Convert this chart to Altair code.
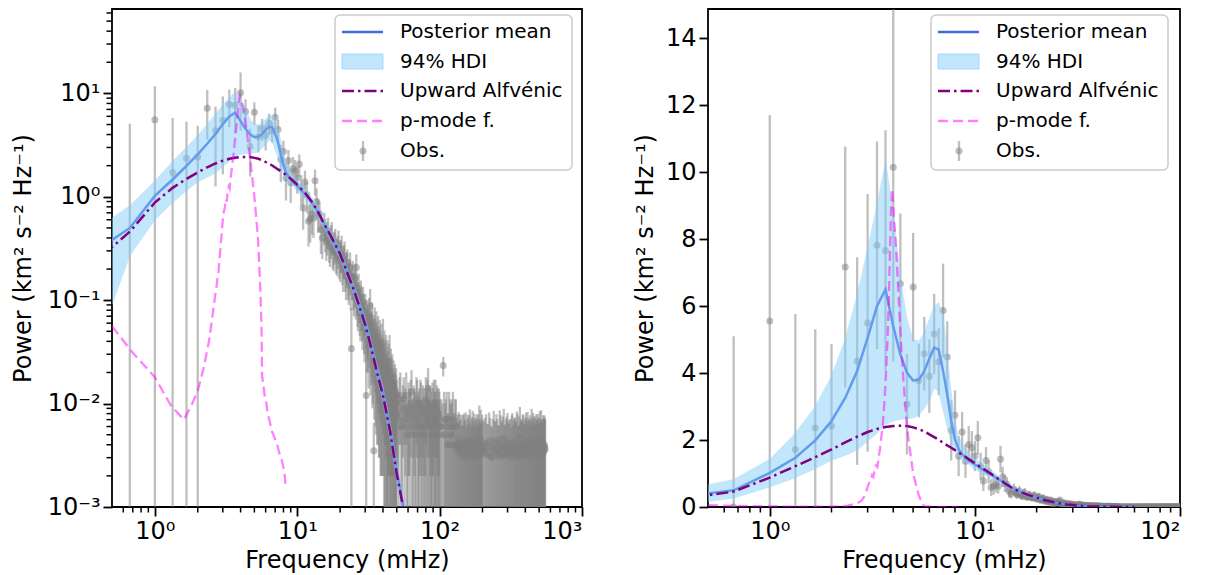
import altair as alt
import pandas as pd

FONT = "DejaVu Sans"
H = 498
W_L, W_R = 470, 472

legend_labels = ["Posterior mean", "94% HDI", "Upward Alfvénic", "p-mode f.", "Obs."]
x_title = "Frequency (mHz)"
y_title = "Power (km² s⁻² Hz⁻¹)"

# ---------------- observations ----------------
obs_f_low = [0.667, 1.0, 1.333, 1.667, 2.0, 2.333, 2.667, 3.0, 3.333, 3.667, 4.0, 4.333, 4.667, 5.0, 5.333,
             5.667, 6.0, 6.333, 6.667, 7.0, 7.333, 7.667, 8.0, 8.333, 8.667, 9.0, 9.333, 9.667, 10.0, 10.333,
             10.667, 11.0, 11.333, 11.667, 12.0, 12.333, 12.667, 13.0, 13.333, 13.667, 14.0, 14.333, 14.667, 15.0]
obs_v_low = [0.0005, 5.56, 1.72, 2.36, 2.42, 7.17, 4.36, 5.50, 7.82, 7.66, 10.15, 6.67, 3.07, 6.57, 3.78,
             4.58, 3.91, 5.17, 4.34, 5.87, 4.48, 2.29, 2.74, 1.52, 2.24, 1.37, 1.87, 1.77, 1.52, 2.07,
             1.22, 0.78, 1.39, 1.05, 0.58, 0.61, 0.68, 0.62, 1.43, 0.90, 0.70, 0.68, 0.48, 0.40]
obs_e_low = [5.1, 6.15, 4.05, 2.95, 2.45, 3.6, 3.1, 3.85, 3.1, 3.6, 5.8, 2.1, 1.5, 1.62, 1.1,
             1.1, 1.1, 1.2, 1.0, 1.4, 1.07, 0.9, 0.75, 0.6, 0.6, 0.5, 0.55, 0.5, 0.45, 0.5,
             0.4, 0.3, 0.4, 0.35, 0.25, 0.25, 0.25, 0.22, 0.4, 0.3, 0.25, 0.22, 0.2, 0.15]

obs_f_mid = [15.5, 16.0, 16.5, 17.0, 17.5, 18.0, 18.5, 19.0, 19.5, 20.0, 20.5, 21.0, 21.5, 22.0, 22.5,
             23.0, 23.5, 24.0, 24.5, 25.0, 25.5, 26.0, 26.5, 27.0, 27.5, 28.0, 28.5, 29.0, 29.5, 30.0,
             30.5, 31.0, 31.5, 32.0, 32.5, 33.0, 33.5, 34.0, 34.5, 35.0, 35.5, 36.0, 36.5, 37.0, 37.5,
             38.0, 38.5, 39.0, 39.5, 40.0, 40.5, 41.0, 41.5, 42.0, 42.5, 43.0, 43.5, 44.0, 44.5, 45.0,
             45.5, 46.0, 46.5, 47.0, 47.5, 48.0, 48.5, 49.0, 49.5]
obs_v_mid = [0.52, 0.38, 0.47, 0.33, 0.42, 0.30, 0.36, 0.27, 0.35, 0.24, 0.31, 0.20, 0.27, 0.17, 0.23,
             0.15, 0.21, 0.034, 0.17, 0.12, 0.166, 0.207, 0.10, 0.13, 0.085, 0.11, 0.075, 0.095, 0.06, 0.08,
             0.012, 0.065, 0.05, 0.07, 0.088, 0.045, 0.06, 0.038, 0.0035, 0.05, 0.032, 0.045, 0.028, 0.04, 0.025,
             0.036, 0.022, 0.033, 0.02, 0.038, 0.018, 0.028, 0.016, 0.025, 0.014, 0.022, 0.013, 0.02, 0.026, 0.012,
             0.018, 0.011, 0.016, 0.01, 0.014, 0.009, 0.013, 0.0085, 0.012]
obs_e_mid = [0.18, 0.14, 0.16, 0.12, 0.15, 0.11, 0.13, 0.10, 0.12, 0.09, 0.11, 0.08, 0.10, 0.07, 0.08,
             0.06, 0.08, 0.05, 0.07, 0.05, 0.06, 0.07, 0.045, 0.05, 0.04, 0.045, 0.035, 0.04, 0.03, 0.035,
             0.03, 0.035, 0.03, 0.035, 0.04, 0.03, 0.035, 0.028, 0.003, 0.035, 0.026, 0.033, 0.024, 0.03, 0.022,
             0.028, 0.02, 0.026, 0.018, 0.028, 0.016, 0.023, 0.015, 0.021, 0.013, 0.019, 0.012, 0.018, 0.02, 0.011,
             0.016, 0.01, 0.014, 0.009, 0.012, 0.008, 0.011, 0.008, 0.01]

obs_f_mid2 = [15.75, 16.25, 16.75, 17.25, 17.75, 18.25, 18.75, 19.25, 19.75, 20.25, 20.75, 21.25, 21.75, 22.25, 22.75,
              23.25, 23.75, 24.25, 24.75, 25.25, 25.75, 26.25, 26.75, 27.25, 27.75, 28.25, 28.75, 29.25, 29.75, 30.25,
              30.75, 31.25, 31.75, 32.25, 32.75, 33.25, 33.75, 34.25, 34.75, 35.25, 35.75, 36.25, 36.75, 37.25, 37.75,
              38.25, 38.75, 39.25, 39.75, 40.25, 40.75, 41.25, 41.75, 42.25, 42.75, 43.25, 43.75, 44.25, 44.75, 45.25,
              45.75, 46.25, 46.75, 47.25, 47.75, 48.25, 48.75, 49.25, 49.75]
obs_v_mid2 = [0.45, 0.42, 0.36, 0.39, 0.31, 0.34, 0.29, 0.31, 0.26, 0.28, 0.22, 0.25, 0.19, 0.21, 0.16,
              0.18, 0.14, 0.16, 0.13, 0.14, 0.11, 0.12, 0.09, 0.105, 0.075, 0.09, 0.065, 0.078, 0.055, 0.068,
              0.05, 0.058, 0.042, 0.052, 0.038, 0.048, 0.034, 0.044, 0.03, 0.04, 0.027, 0.036, 0.024, 0.032, 0.021,
              0.029, 0.019, 0.026, 0.017, 0.024, 0.015, 0.021, 0.014, 0.019, 0.012, 0.017, 0.011, 0.015, 0.01, 0.014,
              0.0095, 0.013, 0.009, 0.012, 0.0085, 0.011, 0.008, 0.01, 0.0075]
obs_e_mid2 = [0.16, 0.15, 0.13, 0.14, 0.11, 0.12, 0.11, 0.11, 0.10, 0.10, 0.08, 0.09, 0.07, 0.08, 0.06,
              0.07, 0.06, 0.06, 0.05, 0.055, 0.045, 0.05, 0.04, 0.045, 0.035, 0.04, 0.032, 0.036, 0.03, 0.034,
              0.03, 0.032, 0.028, 0.03, 0.026, 0.03, 0.025, 0.028, 0.023, 0.027, 0.022, 0.026, 0.02, 0.024, 0.018,
              0.022, 0.017, 0.02, 0.015, 0.019, 0.014, 0.017, 0.013, 0.016, 0.011, 0.015, 0.01, 0.013, 0.01, 0.012,
              0.009, 0.011, 0.008, 0.01, 0.008, 0.009, 0.0075, 0.009, 0.007]

obs_f_hi1 = [50, 51.5, 53, 54.5, 56, 57.5, 59, 60.5, 62, 63.5, 65, 66.5, 68, 69.5, 71, 72.5, 74,
             75.5, 77, 78.5, 80, 81.5, 83, 84.5, 86, 87.5, 89, 90.5, 92, 93.5, 95, 96.5, 98, 99.5]
obs_v_hi1 = [0.010, 0.007, 0.012, 0.006, 0.011, 0.008, 0.005, 0.009, 0.007, 0.013, 0.006, 0.008, 0.005,
             0.010, 0.007, 0.006, 0.009, 0.005, 0.008, 0.006, 0.011, 0.007, 0.014, 0.006, 0.008, 0.005,
             0.009, 0.006, 0.007, 0.010, 0.005, 0.008, 0.006, 0.007]
obs_e_hi1 = [0.007, 0.006, 0.008, 0.005, 0.007, 0.006, 0.005, 0.007, 0.006, 0.008, 0.005, 0.006, 0.005,
             0.007, 0.006, 0.005, 0.007, 0.005, 0.006, 0.005, 0.007, 0.006, 0.008, 0.005, 0.006, 0.005,
             0.007, 0.005, 0.006, 0.007, 0.005, 0.006, 0.005, 0.006]

obs_f_hi1b = [50.75, 52.25, 53.75, 55.25, 56.75, 58.25, 59.75, 61.25, 62.75, 64.25, 65.75, 67.25, 68.75,
              70.25, 71.75, 73.25, 74.75, 76.25, 77.75, 79.25, 80.75, 82.25, 83.75, 85.25, 86.75, 88.25,
              89.75, 91.25, 92.75, 94.25, 95.75, 97.25, 98.75, 100.25]
obs_v_hi1b = [0.008, 0.011, 0.006, 0.009, 0.007, 0.012, 0.006, 0.008, 0.010, 0.005, 0.009, 0.007, 0.011,
              0.006, 0.008, 0.010, 0.006, 0.009, 0.005, 0.008, 0.007, 0.010, 0.006, 0.009, 0.007, 0.005,
              0.008, 0.010, 0.006, 0.007, 0.009, 0.005, 0.008, 0.006]
obs_e_hi1b = [0.006, 0.007, 0.005, 0.006, 0.006, 0.008, 0.005, 0.006, 0.007, 0.005, 0.006, 0.006, 0.007,
              0.005, 0.006, 0.007, 0.005, 0.006, 0.005, 0.006, 0.006, 0.007, 0.005, 0.006, 0.006, 0.005,
              0.006, 0.007, 0.005, 0.006, 0.006, 0.005, 0.006, 0.005]

obs_f_hi2 = [103, 106, 109, 112, 115, 118, 121, 124, 127, 130, 133, 136, 139, 142, 145, 148, 151,
             154, 157, 160, 163, 166, 169, 172, 175, 178, 181, 184, 187, 190, 193, 196, 199]
obs_v_hi2 = [0.006, 0.0233, 0.005, 0.007, 0.004, 0.006, 0.005, 0.007, 0.004, 0.006, 0.004, 0.0045, 0.0035,
             0.004, 0.0032, 0.0042, 0.0036, 0.003, 0.004, 0.0034, 0.0045, 0.0031, 0.0038, 0.0035, 0.0042,
             0.003, 0.0037, 0.0033, 0.004, 0.0048, 0.0032, 0.0036, 0.004]
obs_e_hi2 = [0.005, 0.005, 0.005, 0.006, 0.004, 0.005, 0.005, 0.006, 0.004, 0.005, 0.0038, 0.0038, 0.0033,
             0.0038, 0.003, 0.0038, 0.0034, 0.0028, 0.0038, 0.0032, 0.0043, 0.0029, 0.0036, 0.0033, 0.0038,
             0.0028, 0.0035, 0.0031, 0.0038, 0.0048, 0.003, 0.0034, 0.0038]

obs_f_hi2b = [104.5, 107.5, 110.5, 113.5, 116.5, 119.5, 122.5, 125.5, 128.5, 131.5, 134.5, 137.5, 140.5,
              143.5, 146.5, 149.5, 152.5, 155.5, 158.5, 161.5, 164.5, 167.5, 170.5, 173.5, 176.5, 179.5,
              182.5, 185.5, 188.5, 191.5, 194.5, 197.5, 200.5]
obs_v_hi2b = [0.005, 0.007, 0.006, 0.004, 0.007, 0.005, 0.006, 0.004, 0.006, 0.0038, 0.0034, 0.0041, 0.0037,
              0.0031, 0.004, 0.0035, 0.0043, 0.0032, 0.0037, 0.004, 0.0033, 0.0036, 0.0044, 0.0032, 0.0038,
              0.0035, 0.0041, 0.0031, 0.0037, 0.0034, 0.0045, 0.0033, 0.0036]
obs_e_hi2b = [0.005, 0.006, 0.005, 0.004, 0.006, 0.005, 0.005, 0.004, 0.005, 0.0035, 0.0032, 0.0038, 0.0034,
              0.003, 0.0037, 0.0033, 0.0039, 0.003, 0.0035, 0.0037, 0.0031, 0.0034, 0.0041, 0.003, 0.0035,
              0.0033, 0.0038, 0.003, 0.0034, 0.0032, 0.0042, 0.0031, 0.0034]

obs_f_hi3 = [205, 212, 219, 226, 233, 240, 247, 254, 261, 268, 275, 282, 289, 296, 303, 310, 317, 324,
             331, 338, 345, 352, 359, 366, 373, 380, 387, 394, 401, 408, 415, 422, 429, 436, 443, 450,
             457, 464, 471, 478, 485, 492, 499, 506, 513, 520, 527, 534, 541, 548]
obs_v_hi3 = [0.0035, 0.0041, 0.0032, 0.0038, 0.003, 0.0044, 0.0034, 0.0037, 0.0031, 0.004,
             0.0036, 0.0046, 0.0032, 0.0039, 0.0034, 0.0037, 0.003, 0.0042, 0.0035, 0.0038,
             0.0033, 0.0041, 0.0031, 0.0048, 0.0036, 0.0034, 0.004, 0.0032, 0.0038, 0.0035,
             0.0043, 0.0031, 0.0037, 0.0034, 0.0046, 0.0033, 0.0039, 0.0036, 0.0032, 0.0041,
             0.0035, 0.0038, 0.0031, 0.0044, 0.0034, 0.0037, 0.0033, 0.004, 0.0036, 0.0038]
obs_e_hi3 = [0.0032, 0.0038, 0.0031, 0.0035, 0.0029, 0.0041, 0.0033, 0.0034, 0.003, 0.0037,
             0.0033, 0.0043, 0.0031, 0.0036, 0.0033, 0.0034, 0.0029, 0.0039, 0.0034, 0.0035,
             0.0032, 0.0038, 0.003, 0.0045, 0.0033, 0.0033, 0.0037, 0.0031, 0.0035, 0.0034,
             0.004, 0.003, 0.0034, 0.0033, 0.0043, 0.0032, 0.0036, 0.0035, 0.0031, 0.0038,
             0.0034, 0.0035, 0.003, 0.0041, 0.0033, 0.0034, 0.0032, 0.0037, 0.0035, 0.0035]

obs_f_hi3b = [208.5, 215.5, 222.5, 229.5, 236.5, 243.5, 250.5, 257.5, 264.5, 271.5, 278.5, 285.5, 292.5,
              299.5, 306.5, 313.5, 320.5, 327.5, 334.5, 341.5, 348.5, 355.5, 362.5, 369.5, 376.5, 383.5,
              390.5, 397.5, 404.5, 411.5, 418.5, 425.5, 432.5, 439.5, 446.5, 453.5, 460.5, 467.5, 474.5,
              481.5, 488.5, 495.5, 502.5, 509.5, 516.5, 523.5, 530.5, 537.5, 544.5, 551.0]
obs_v_hi3b = [0.0038, 0.0033, 0.0043, 0.0031, 0.0037, 0.0035, 0.0041, 0.0032, 0.0045, 0.0034,
              0.0039, 0.0031, 0.0037, 0.0042, 0.0033, 0.0036, 0.004, 0.0032, 0.0038, 0.0035,
              0.0044, 0.0031, 0.0039, 0.0034, 0.0037, 0.0041, 0.0032, 0.0036, 0.0043, 0.0033,
              0.0038, 0.0035, 0.004, 0.0031, 0.0037, 0.0042, 0.0034, 0.0039, 0.0032, 0.0036,
              0.0041, 0.0033, 0.0038, 0.0035, 0.0045, 0.0032, 0.0037, 0.0034, 0.004, 0.0036]
obs_e_hi3b = [0.0035, 0.0031, 0.0039, 0.003, 0.0034, 0.0033, 0.0038, 0.003, 0.0041, 0.0032,
              0.0036, 0.003, 0.0034, 0.0039, 0.0031, 0.0034, 0.0037, 0.003, 0.0035, 0.0033,
              0.004, 0.003, 0.0036, 0.0032, 0.0034, 0.0038, 0.003, 0.0034, 0.0039, 0.0031,
              0.0035, 0.0033, 0.0037, 0.003, 0.0034, 0.0039, 0.0032, 0.0036, 0.003, 0.0034,
              0.0038, 0.0031, 0.0035, 0.0033, 0.0041, 0.003, 0.0034, 0.0032, 0.0037, 0.0034]

# ---------------- model curves ----------------
mod_f = [0.333, 0.667, 1.0, 1.333, 1.667, 2.0, 2.333, 2.667, 3.0, 3.333, 3.667, 4.0, 4.333, 4.667, 5.0,
         5.333, 5.667, 6.0, 6.333, 6.667, 7.0, 7.333, 7.667, 8.0, 8.333, 8.667, 9.0, 9.333, 9.667, 10.0,
         10.333, 10.667, 11.0, 11.333, 11.667, 12.0, 12.333, 12.667, 13.0, 13.333, 13.667, 14.0, 14.333, 14.667, 15.0,
         16, 17, 18, 20, 22, 25, 28, 30, 33, 36, 40, 45, 50, 55, 60]
mod_mean = [0.26, 0.50, 1.02, 1.47, 1.99, 2.57, 3.26, 4.06, 5.05, 6.0, 6.5, 5.4, 4.56, 4.01, 3.78,
            3.8, 4.06, 4.44, 4.76, 4.7, 4.06, 3.36, 2.57, 2.02, 1.72, 1.58, 1.47, 1.40, 1.33, 1.27,
            1.22, 1.16, 1.11, 1.06, 1.02, 0.97, 0.92, 0.88, 0.83, 0.79, 0.75, 0.71, 0.67, 0.63, 0.59,
            0.50, 0.43, 0.37, 0.28, 0.20, 0.125, 0.08, 0.06, 0.036, 0.022, 0.0125, 0.0055, 0.0022, 0.0011, 0.0005]
mod_lower = [0.02, 0.27, 0.60, 0.88, 1.15, 1.40, 1.55, 1.70, 1.97, 2.2, 2.47, 2.57, 2.62, 2.64, 2.66,
             2.75, 2.95, 3.2, 3.55, 3.45, 2.9, 2.4, 1.95, 1.68, 1.5, 1.42, 1.35, 1.28, 1.2, 1.13,
             1.08, 1.03, 0.99, 0.95, 0.91, 0.87, 0.83, 0.79, 0.75, 0.71, 0.67, 0.64, 0.60, 0.57, 0.53,
             0.45, 0.38, 0.33, 0.25, 0.18, 0.11, 0.07, 0.052, 0.031, 0.019, 0.0105, 0.0045, 0.0018, 0.0009, 0.0004]
mod_upper = [0.42, 0.82, 1.42, 2.2, 3.0, 3.9, 5.0, 6.3, 7.7, 9.0, 10.3, 8.8, 6.8, 5.6, 5.0,
             4.95, 5.2, 5.6, 6.0, 6.1, 5.7, 4.5, 3.4, 2.5, 2.1, 1.9, 1.75, 1.62, 1.52, 1.45,
             1.38, 1.31, 1.25, 1.19, 1.14, 1.09, 1.03, 0.98, 0.93, 0.88, 0.84, 0.79, 0.75, 0.71, 0.66,
             0.56, 0.48, 0.41, 0.31, 0.22, 0.14, 0.09, 0.068, 0.041, 0.025, 0.0145, 0.0065, 0.0027, 0.0013, 0.0006]
mod_alf = [0.20, 0.46, 0.88, 1.22, 1.49, 1.72, 1.93, 2.10, 2.24, 2.33, 2.39, 2.42, 2.43, 2.42, 2.38,
           2.33, 2.26, 2.17, 2.09, 2.01, 1.92, 1.84, 1.77, 1.70, 1.63, 1.56, 1.50, 1.43, 1.37, 1.31,
           1.25, 1.19, 1.14, 1.09, 1.04, 0.99, 0.94, 0.89, 0.84, 0.80, 0.76, 0.71, 0.67, 0.63, 0.59,
           0.50, 0.43, 0.37, 0.28, 0.20, 0.125, 0.078, 0.058, 0.035, 0.021, 0.012, 0.0053, 0.0021, 0.00105, 0.00048]

pm_f = [0.5, 0.7, 1.0, 1.3, 1.6, 1.8, 2.0, 2.2, 2.4, 2.6, 2.65, 2.7, 2.75, 2.8, 2.85, 2.9, 2.95, 3.0,
        3.05, 3.1, 3.15, 3.2, 3.25, 3.3, 3.35, 3.4, 3.45, 3.5, 3.55, 3.6, 3.65, 3.7, 3.75, 3.8, 3.85,
        3.9, 3.95, 4.15, 4.4, 4.66, 5.0, 5.3, 5.5, 5.62, 5.66, 5.75, 5.9, 6.05, 6.2, 6.4, 6.6, 6.8,
        7.0, 7.15, 7.3, 7.45, 7.6, 7.75, 7.9, 8.0, 8.1, 8.2, 8.3]
pm_v = [0.056, 0.031, 0.018, 0.0095, 0.0070, 0.0095, 0.0133, 0.022, 0.040, 0.09, 0.11, 0.13, 0.16, 0.19,
        0.26, 0.33, 0.45, 0.60, 0.72, 0.78, 0.95, 0.9, 1.15, 1.25, 1.2, 1.5, 1.75, 2.1, 2.4, 2.9, 3.5,
        4.2, 5.0, 6.0, 7.5, 8.8, 9.5, 7.5, 4.5, 2.4, 1.0, 0.4, 0.13, 0.05, 0.0186, 0.016, 0.012, 0.0105,
        0.008, 0.0068, 0.0055, 0.005, 0.0045, 0.0042, 0.0038, 0.0034, 0.0031, 0.0029, 0.0026, 0.0024,
        0.0022, 0.0019, 0.0015]

# tick positions
major_x_left = [1, 10, 100, 1000]
major_y_left = [0.001, 0.01, 0.1, 1, 10]
minor_x_left = [0.6, 0.7, 0.8, 0.9, 2, 3, 4, 5, 6, 7, 8, 9, 20, 30, 40, 50, 60, 70, 80, 90,
                200, 300, 400, 500, 600, 700, 800, 900]
minor_y_left = [0.002, 0.003, 0.004, 0.005, 0.006, 0.007, 0.008, 0.009,
                0.02, 0.03, 0.04, 0.05, 0.06, 0.07, 0.08, 0.09,
                0.2, 0.3, 0.4, 0.5, 0.6, 0.7, 0.8, 0.9,
                2, 3, 4, 5, 6, 7, 8, 9, 20, 30, 40, 50, 60]
major_x_right = [1, 10, 100]
major_y_right = [0, 2, 4, 6, 8, 10, 12, 14]
minor_x_right = [0.6, 0.7, 0.8, 0.9, 2, 3, 4, 5, 6, 7, 8, 9, 20, 30, 40, 50, 60, 70, 80, 90]

# ---------------- data frames ----------------
obs = pd.DataFrame({
    "f": obs_f_low + obs_f_mid + obs_f_mid2 + obs_f_hi1 + obs_f_hi1b + obs_f_hi2 + obs_f_hi2b + obs_f_hi3 + obs_f_hi3b,
    "v": obs_v_low + obs_v_mid + obs_v_mid2 + obs_v_hi1 + obs_v_hi1b + obs_v_hi2 + obs_v_hi2b + obs_v_hi3 + obs_v_hi3b,
    "e": obs_e_low + obs_e_mid + obs_e_mid2 + obs_e_hi1 + obs_e_hi1b + obs_e_hi2 + obs_e_hi2b + obs_e_hi3 + obs_e_hi3b,
})
obs["hi"] = obs["v"] + obs["e"]
obs["lo"] = obs["v"] - obs["e"]
obs["lo_log"] = obs["lo"].clip(lower=1e-6)

mod = pd.DataFrame({"f": mod_f, "mean": mod_mean, "lower": mod_lower,
                    "upper": mod_upper, "alf": mod_alf})
pm = pd.DataFrame({"f": pm_f, "p": pm_v})

AX = dict(tickSize=9, tickWidth=1.8, tickColor="black", labelFontSize=24, labelColor="black",
          labelPadding=3, titleFontSize=24, titleFontWeight="normal", titleColor="black",
          grid=False, domain=False, labelFont=FONT, titleFont=FONT)

GRAY = "gray"
BAND = "#87cefa"


def legend_layers():
    d = pd.DataFrame({"a": [0]})
    base = alt.Chart(d)
    lx0, lx1 = 230, 271
    rows = [23, 53, 82, 112, 142]
    layers = [
        base.mark_rect(fill="white", fillOpacity=0.8, stroke="#cccccc", strokeWidth=1.5,
                       cornerRadius=5).encode(x=alt.value(223), x2=alt.value(460),
                                              y=alt.value(6), y2=alt.value(161)),
        base.mark_rule(color="royalblue", strokeWidth=2.5).encode(
            x=alt.value(lx0), x2=alt.value(lx1), y=alt.value(rows[0])),
        base.mark_rect(fill=BAND, fillOpacity=0.5, stroke=BAND, strokeOpacity=0.7, strokeWidth=1).encode(
            x=alt.value(lx0), x2=alt.value(lx1), y=alt.value(rows[1] - 8), y2=alt.value(rows[1] + 7)),
        base.mark_rule(color="purple", strokeWidth=2.5, strokeDash=[12, 4, 2.5, 4]).encode(
            x=alt.value(lx0), x2=alt.value(lx1), y=alt.value(rows[2])),
        base.mark_rule(color="#ff00ff", opacity=0.5, strokeWidth=2.3, strokeDash=[10, 5]).encode(
            x=alt.value(lx0), x2=alt.value(lx1), y=alt.value(rows[3])),
        base.mark_rule(color=GRAY, opacity=0.5, strokeWidth=2.3).encode(
            x=alt.value(251), y=alt.value(rows[4] - 10), y2=alt.value(rows[4] + 10)),
        base.mark_circle(color=GRAY, opacity=0.5, size=50).encode(
            x=alt.value(251), y=alt.value(rows[4])),
    ]
    for lab, yy in zip(legend_labels, rows):
        layers.append(base.mark_text(align="left", baseline="middle", fontSize=20, font=FONT,
                                     color="black").encode(x=alt.value(288), y=alt.value(yy),
                                                           text=alt.value(lab)))
    return layers


def panel(width, xdom, xvals, xexpr, ylog, ydom, yvals, yexpr, minor_x, minor_y, ytp):
    xs = alt.Scale(type="log", domain=xdom, nice=False)
    if ylog:
        ys = alt.Scale(type="log", domain=ydom, nice=False)
        lo_field = "lo_log"
    else:
        ys = alt.Scale(type="linear", domain=ydom, nice=False, zero=False)
        lo_field = "lo"
    xax = alt.Axis(values=xvals, labelExpr=xexpr, titlePadding=5, **AX)
    yax_kw = dict(values=yvals, titlePadding=ytp, **AX)
    if yexpr:
        yax_kw["labelExpr"] = yexpr
    yax = alt.Axis(**yax_kw)

    def X(fld):
        return alt.X(f"{fld}:Q", scale=xs, axis=xax, title=x_title)

    def Y(fld):
        return alt.Y(f"{fld}:Q", scale=ys, axis=yax, title=y_title)

    ob = alt.Chart(obs)
    layers = [
        ob.mark_rule(color=GRAY, opacity=0.5, strokeWidth=2.3, clip=True).encode(
            x=X("f"), y=Y(lo_field), y2=alt.Y2("hi:Q")),
        ob.mark_circle(color=GRAY, opacity=0.5, size=50, clip=True).encode(x=X("f"), y=Y("v")),
        alt.Chart(mod).mark_line(color="royalblue", strokeWidth=2.5, clip=True).encode(
            x=X("f"), y=Y("mean")),
        alt.Chart(mod).mark_area(color=BAND, opacity=0.5, stroke=BAND, strokeWidth=1,
                                 clip=True).encode(x=X("f"), y=Y("lower"), y2=alt.Y2("upper:Q")),
        alt.Chart(mod).mark_line(color="purple", strokeWidth=2.5, strokeDash=[12, 4, 2.5, 4],
                                 clip=True).encode(x=X("f"), y=Y("alf")),
        alt.Chart(pm).mark_line(color="#ff00ff", opacity=0.5, strokeWidth=2.3, strokeDash=[10, 5],
                                clip=True).encode(x=X("f"), y=Y("p")),
        alt.Chart(pd.DataFrame({"m": minor_x})).mark_rule(color="black", strokeWidth=1.5).encode(
            x=X("m"), y=alt.value(H), y2=alt.value(H + 5.5)),
    ]
    if minor_y:
        layers.append(alt.Chart(pd.DataFrame({"m": minor_y})).mark_rule(color="black", strokeWidth=1.5).encode(
            y=Y("m"), x=alt.value(0), x2=alt.value(-5.5)))
    layers += legend_layers()
    return alt.layer(*layers).properties(width=width, height=H)


left = panel(
    W_L, [0.5, 1000], major_x_left,
    "datum.value < 5 ? '10⁰' : datum.value < 50 ? '10¹' : datum.value < 500 ? '10²' : '10³'",
    True, [0.001, 65.5], major_y_left,
    "datum.value < 0.005 ? '10⁻³' : datum.value < 0.05 ? '10⁻²' : datum.value < 0.5 ? '10⁻¹' : datum.value < 5 ? '10⁰' : '10¹'",
    minor_x_left, minor_y_left, 12)

right = panel(
    W_R, [0.5, 100], major_x_right,
    "datum.value < 5 ? '10⁰' : datum.value < 50 ? '10¹' : '10²'",
    False, [0, 14.88], major_y_right, None,
    minor_x_right, None, 8)

chart = alt.hconcat(left, right, spacing=48).properties(
    padding={"left": 2, "top": 0, "right": 5, "bottom": 0}
).configure(font=FONT).configure_view(stroke="black", strokeWidth=1.8)

chart.save("out.html", embed_options={"renderer": "svg", "actions": False})
